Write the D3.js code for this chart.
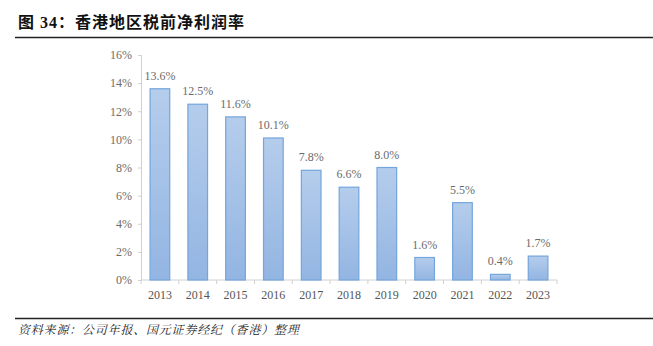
<!DOCTYPE html>
<html><head><meta charset="utf-8">
<script src="https://cdn.jsdelivr.net/npm/d3@7"></script>
<style>body{margin:0;background:#fff;}svg{display:block;}</style>
</head><body>
<svg id="c" width="653" height="346"></svg>
<script>
const categories = ["2013","2014","2015","2016","2017","2018","2019","2020","2021","2022","2023"];
const values = [13.6,12.5,11.6,10.1,7.8,6.6,8.0,1.6,5.5,0.4,1.7];
const valueLabels = ["13.6%","12.5%","11.6%","10.1%","7.8%","6.6%","8.0%","1.6%","5.5%","0.4%","1.7%"];
const yTicks = [0,2,4,6,8,10,12,14,16];
const title = "图 34：香港地区税前净利润率";
const source = "资料来源：公司年报、国元证券经纪（香港）整理";

const svg = d3.select("#c");
const serif = "'Liberation Serif','Times New Roman',serif";
const cjk = "'Noto Sans CJK SC','Noto Sans CJK TC',sans-serif";

// title
svg.append("text").attr("x",18).attr("y",28)
  .attr("font-family",serif+","+cjk).attr("font-size",16).attr("font-weight","bold")
  .attr("letter-spacing",1).attr("fill","#111").text(title);
svg.append("line").attr("x1",15).attr("x2",653).attr("y1",37.5).attr("y2",37.5)
  .attr("stroke","#222").attr("stroke-width",1.6);
svg.append("line").attr("x1",15).attr("x2",653).attr("y1",318.5).attr("y2",318.5)
  .attr("stroke","#222").attr("stroke-width",1.6);
svg.append("text").attr("x",18).attr("y",334)
  .attr("font-family","'Noto Serif CJK SC','Noto Sans CJK SC',serif").attr("font-size",12)
  .attr("font-style","italic").attr("letter-spacing",0.8).attr("fill","#222")
  .text(source);

const x = d3.scaleBand().domain(categories).range([141,557]).paddingInner(0.48).paddingOuter(0.24);
const y = d3.scaleLinear().domain([0,16]).range([280,55]);

const defs = svg.append("defs");
const g = defs.append("linearGradient").attr("id","bg").attr("x1",0).attr("x2",0).attr("y1",0).attr("y2",1);
g.append("stop").attr("offset","0%").attr("stop-color","#b5cdec");
g.append("stop").attr("offset","100%").attr("stop-color","#93b5e2");

// y axis
const yAxis = d3.axisLeft(y).tickValues(yTicks).tickFormat(d=>d+"%").tickSize(3).tickPadding(6);
const ya = svg.append("g").attr("transform","translate(141,0)").call(yAxis);
ya.select(".domain").attr("stroke","#d0d0d0");
ya.selectAll(".tick line").attr("stroke","#d0d0d0");
ya.selectAll("text").attr("font-family",serif).attr("font-size",12).attr("fill","#6b6b6b");

// x axis
const xa = svg.append("g").attr("transform","translate(0,280)");
xa.append("line").attr("x1",141).attr("x2",557).attr("stroke","#d0d0d0");
const bounds = d3.range(categories.length+1).map(i=>141+i*x.step());
xa.selectAll("line.tk").data(bounds).enter().append("line").attr("class","tk")
  .attr("x1",d=>d).attr("x2",d=>d).attr("y1",0).attr("y2",4).attr("stroke","#d0d0d0");
xa.selectAll("text").data(categories).enter().append("text")
  .attr("x",d=>x(d)+x.bandwidth()/2).attr("y",19).attr("text-anchor","middle")
  .attr("font-family",serif).attr("font-size",12).attr("fill","#555").text(d=>d);

// bars
svg.selectAll("rect.bar").data(values).enter().append("rect").attr("class","bar")
  .attr("x",(d,i)=>x(categories[i])).attr("width",x.bandwidth())
  .attr("y",d=>y(d)).attr("height",d=>280-y(d))
  .attr("fill","url(#bg)").attr("stroke","#74a5dc").attr("stroke-width",1.2);

svg.selectAll("text.lbl").data(values).enter().append("text").attr("class","lbl")
  .attr("x",(d,i)=>x(categories[i])+x.bandwidth()/2).attr("y",d=>y(d)-9)
  .attr("text-anchor","middle").attr("font-family",serif).attr("font-size",12).attr("fill","#6b6b6b")
  .text((d,i)=>valueLabels[i]);
</script>
</body></html>
